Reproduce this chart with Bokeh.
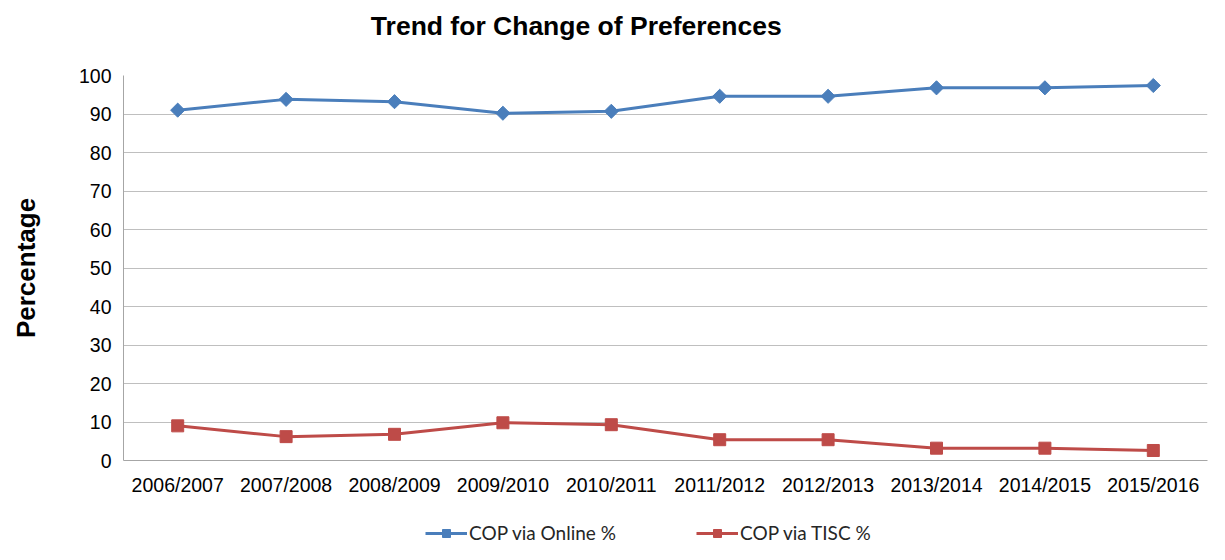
from bokeh.plotting import figure
from bokeh.layouts import column
from bokeh.models import Legend, LegendItem, Label, FactorRange, Range1d
from bokeh.embed import file_html
from bokeh.resources import INLINE

years = ["2006/2007", "2007/2008", "2008/2009", "2009/2010", "2010/2011",
         "2011/2012", "2012/2013", "2013/2014", "2014/2015", "2015/2016"]
online = [91.0, 93.8, 93.2, 90.2, 90.7, 94.6, 94.6, 96.8, 96.8, 97.4]
tisc = [9.0, 6.2, 6.8, 9.8, 9.3, 5.4, 5.4, 3.2, 3.2, 2.6]
y_ticks = [0, 10, 20, 30, 40, 50, 60, 70, 80, 90, 100]
title_text = "Trend for Change of Preferences"

BLUE = "#4A7EBB"
RED = "#BE4B48"
W = 1209

# title strip
t = figure(width=W, height=50, x_range=Range1d(0, W), y_range=Range1d(0, 50),
           output_backend="svg", toolbar_location=None, min_border=0,
           outline_line_color=None)
t.axis.visible = False
t.grid.visible = False
t.add_layout(Label(x=505, y=25, text=title_text, text_align="center",
                   text_baseline="middle", text_font="Liberation Sans",
                   text_font_size="26.5px", text_font_style="bold",
                   text_color="#000000"))

p = figure(width=W, height=462, x_range=FactorRange(*years, range_padding=0),
           y_range=(0, 100), output_backend="svg", toolbar_location=None,
           min_border_left=123, min_border_right=2, min_border_top=25,
           min_border_bottom=52, outline_line_color=None)


def draw(fig):
    a = fig.line(years, online, line_color=BLUE, line_width=3)
    b = fig.scatter(years, online, marker="square", size=10, angle=0.785398,
                    fill_color=BLUE, line_color=BLUE)
    c = fig.line(years, tisc, line_color=RED, line_width=3)
    d = fig.scatter(years, tisc, marker="square", size=12, fill_color=RED, line_color=RED)
    return a, b, c, d


draw(p)

p.yaxis.ticker = y_ticks
p.yaxis.axis_label = "Percentage"
p.yaxis.axis_label_text_font = "Liberation Sans"
p.yaxis.axis_label_text_font_size = "26px"
p.yaxis.axis_label_text_font_style = "bold"
p.yaxis.axis_label_text_color = "#000000"
p.yaxis.axis_label_standoff = 35

for ax in (p.xaxis[0], p.yaxis[0]):
    ax.major_label_text_font = "Liberation Sans"
    ax.major_label_text_font_size = "19.5px"
    ax.major_label_text_color = "#000000"
    ax.major_tick_line_color = None
    ax.minor_tick_line_color = None
    ax.axis_line_color = "#A6A6A6"
    ax.axis_line_width = 1
p.yaxis.major_label_standoff = 6
p.xaxis.major_label_standoff = 7

p.xgrid.grid_line_color = None
p.ygrid.grid_line_color = "#BFBFBF"
p.ygrid.grid_line_width = 1

# legend strip: same series drawn outside its visible range, only the legend shows
q = figure(width=W, height=32, x_range=FactorRange(*years, range_padding=0),
           y_range=(0, 1), output_backend="svg", toolbar_location=None,
           min_border_left=123, min_border_right=2, min_border_top=0,
           min_border_bottom=0, outline_line_color=None)
q.axis.visible = False
q.grid.visible = False
l1, m1, l2, m2 = draw(q)

legend = Legend(items=[LegendItem(label="COP via Online %", renderers=[l1, m1]),
                       LegendItem(label="COP via TISC %", renderers=[l2, m2])],
                orientation="horizontal", location=(302, 0),
                label_text_font="Lato", label_text_font_size="19px",
                label_text_color="#262626",
                glyph_width=42, spacing=80, border_line_color=None,
                background_fill_alpha=0, label_standoff=2, padding=0, margin=0)
q.add_layout(legend, "center")

layout = column(t, p, q, spacing=0)
open("out.html", "w").write(file_html(layout, INLINE))
